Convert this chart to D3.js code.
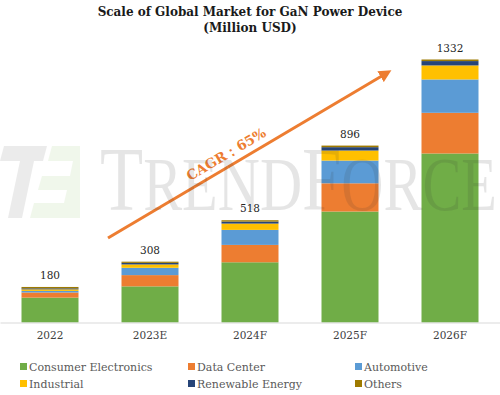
<!DOCTYPE html>
<html>
<head>
<meta charset="utf-8">
<script src="https://cdn.jsdelivr.net/npm/d3@7"></script>
<style>
  body { margin: 0; background: #fff; }
  svg { display: block; }
</style>
</head>
<body>
<div id="chart-area"></div>
<script>

// data (Million USD)
var years = ["2022", "2023E", "2024F", "2025F", "2026F"];
var totals = [180, 308, 518, 896, 1332];
var segments = ["Consumer Electronics", "Data Center", "Automotive", "Industrial", "Renewable Energy", "Others"];
var consumer   = [126, 183, 305, 562, 856];
var dataCenter = [26, 57, 88, 143, 206];
var automotive = [8, 37, 76, 115, 169];
var industrial = [8, 17, 32, 51, 71];
var renewable  = [5, 8, 10, 17, 22];
var others     = [7, 6, 7, 8, 8];
var colors = ["#70AD47", "#ED7D31", "#5B9BD5", "#FFC000", "#264478", "#9E7A00"];

var width = 500, height = 395;
var serif = "'DejaVu Serif', 'Liberation Serif', serif";

var svg = d3.select("#chart-area")
    .append("svg")
        .attr("width", width)
        .attr("height", height);

// Title
var title = svg.append("text")
    .attr("x", 250)
    .attr("font-family", serif)
    .attr("font-weight", "bold")
    .attr("font-size", "12px")
    .attr("fill", "#1a1a1a")
    .attr("text-anchor", "middle");
title.append("tspan").attr("x", 250).attr("y", 16).text("Scale of Global Market for GaN Power Device");
title.append("tspan").attr("x", 250).attr("y", 32).text("(Million USD)");

// Scales
var x = d3.scaleBand()
    .domain(years)
    .range([0, width])
    .paddingInner(0.43)
    .paddingOuter(0.215);

var y = d3.scaleLinear()
    .domain([0, 1332])
    .range([322.5, 59.5]);

var color = d3.scaleOrdinal()
    .domain(segments)
    .range(colors);

// build rows for stacking
var rows = years.map(function(yr, i) {
    var r = { year: yr };
    r[segments[0]] = consumer[i];
    r[segments[1]] = dataCenter[i];
    r[segments[2]] = automotive[i];
    r[segments[3]] = industrial[i];
    r[segments[4]] = renewable[i];
    r[segments[5]] = others[i];
    return r;
});

var stacked = d3.stack().keys(segments)(rows);

// Bars
svg.append("g").selectAll("g")
    .data(stacked)
    .enter()
    .append("g")
        .attr("fill", function(d) { return color(d.key); })
    .selectAll("rect")
    .data(function(d) { return d; })
    .enter()
    .append("rect")
        .attr("x", function(d) { return x(d.data.year); })
        .attr("y", function(d) { return y(d[1]); })
        .attr("width", x.bandwidth())
        .attr("height", function(d) { return y(d[0]) - y(d[1]); });

// X Axis
var xAxisCall = d3.axisBottom(x).tickSize(0).tickPadding(9);
var xAxis = svg.append("g")
    .attr("class", "x axis")
    .attr("transform", "translate(0," + y(0) + ")")
    .call(xAxisCall);
xAxis.select(".domain").attr("stroke", "#d9d9d9").attr("stroke-width", 1.2);
xAxis.selectAll("text")
    .attr("font-family", serif)
    .attr("font-size", "10.5px")
    .attr("fill", "#404040");

// Totals
svg.append("g").selectAll("text")
    .data(totals)
    .enter()
    .append("text")
        .attr("x", function(d, i) { return x(years[i]) + x.bandwidth() / 2; })
        .attr("y", function(d) { return y(d) - 8; })
        .attr("text-anchor", "middle")
        .attr("font-family", serif)
        .attr("font-size", "10.5px")
        .attr("fill", "#262626")
        .text(function(d) { return d; });

// CAGR arrow
svg.append("defs").append("marker")
    .attr("id", "head")
    .attr("viewBox", "0 0 10 10")
    .attr("refX", 5).attr("refY", 5)
    .attr("markerWidth", 4.2).attr("markerHeight", 4.2)
    .attr("orient", "auto")
  .append("path")
    .attr("d", "M0,0 L10,5 L0,10 z")
    .attr("fill", "#ED7D31");

svg.append("line")
    .attr("x1", 108).attr("y1", 238)
    .attr("x2", 386).attr("y2", 73.5)
    .attr("stroke", "#ED7D31")
    .attr("stroke-width", 3)
    .attr("marker-end", "url(#head)");

svg.append("text")
    .attr("transform", "translate(226,154) rotate(-30.6)")
    .attr("text-anchor", "middle")
    .attr("dominant-baseline", "central")
    .attr("font-family", serif)
    .attr("font-weight", "bold")
    .attr("font-size", "13.5px")
    .attr("fill", "#ED7D31")
    .text("CAGR：65%");

// TrendForce watermark
var wm = svg.append("g").attr("opacity", 0.12);
wm.append("path")
    .attr("d", "M4,146 L47,146 L43,161 L34,161 L22,218 L8,218 L20,161 L0,161 Z")
    .attr("fill", "#666");
wm.append("path")
    .attr("d", "M52,146 L80,146 L80,218 L30,218 L34,203 L64,203 L67,190 L38,190 L42,176 L70,176 L73,161 L48,161 Z")
    .attr("fill", "#8cc063");
var wt = wm.append("text")
    .attr("x", 100).attr("y", 210)
    .attr("font-family", "'Liberation Serif', serif")
    .attr("fill", "#333")
    .attr("textLength", 397)
    .attr("lengthAdjust", "spacingAndGlyphs");
wt.append("tspan").attr("font-size", "92px").text("T");
wt.append("tspan").attr("font-size", "76px").text("REND");
wt.append("tspan").attr("font-size", "92px").text("F");
wt.append("tspan").attr("font-size", "76px").text("ORCE");

// Legend
var legendX = [20, 188, 355];
var legendY = [367, 384];
var legend = svg.append("g").selectAll("g")
    .data(segments)
    .enter()
    .append("g")
        .attr("transform", function(d, i) {
            return "translate(" + legendX[i % 3] + "," + legendY[Math.floor(i / 3)] + ")";
        });
legend.append("rect")
    .attr("x", 0).attr("y", -4)
    .attr("width", 7).attr("height", 7)
    .attr("fill", function(d) { return color(d); });
legend.append("text")
    .attr("x", 9)
    .attr("dy", "0.35em")
    .attr("font-family", serif)
    .attr("font-size", "11px")
    .attr("fill", "#595959")
    .text(function(d) { return d; });

</script>
</body>
</html>
